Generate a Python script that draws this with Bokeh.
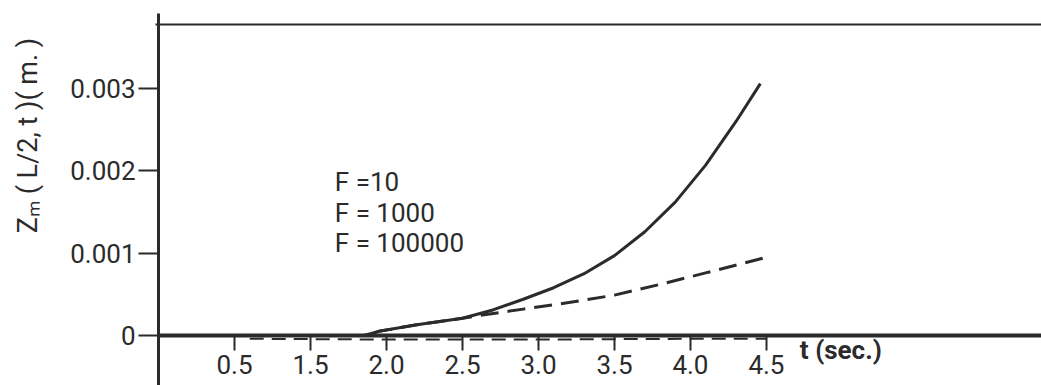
import math
from bokeh.plotting import figure
from bokeh.models import LinearAxis, FixedTicker, Label, ColumnDataSource, Range1d
from bokeh.core.properties import value
from bokeh.embed import file_html
from bokeh.resources import INLINE

# ---- data ----
# x in tick-position units (one tick every 0.5)
T_F10 = [0.0, 1.35, 1.45, 1.7, 2.0, 2.2, 2.4, 2.6, 2.8, 3.0, 3.2, 3.4, 3.6, 3.8, 3.96]
Z_F10 = [0.0, 0.0, 0.00005, 0.00013, 0.00021, 0.00031, 0.00044, 0.00058, 0.00075,
         0.00097, 0.00126, 0.00162, 0.00207, 0.0026, 0.00306]

T_F1000 = [0.0, 1.35, 1.45, 1.7, 2.0, 2.1, 2.4, 2.7, 3.0, 3.3, 3.6, 3.98]
Z_F1000 = [0.0, 0.0, 0.00005, 0.00013, 0.00021, 0.00024, 0.00032, 0.0004, 0.00049,
           0.00062, 0.00076, 0.00094]

T_F100000 = [0.6, 1.5, 2.5, 3.5, 4.0]
Z_F100000 = [-0.00004, -0.00005, -0.00005, -0.00004, -0.00004]

X_TICKS = [0.5, 1.0, 1.5, 2.0, 2.5, 3.0, 3.5, 4.0]
X_TICK_LABELS = ["0.5", "1.5", "2.0", "2.5", "3.0", "3.5", "4.0", "4.5"]
Y_TICKS = [0.0, 0.001, 0.002, 0.003]
Y_TICK_LABELS = ["0", "0.001", "0.002", "0.003"]

LEGEND_LABELS = ["F =10", "F = 1000", "F = 100000"]
LEGEND_Y = [0.00186, 0.00149, 0.00112]
LEGEND_X = 1.16
TOP_RULE = 0.00378

X_MIN, X_MAX = -1.04, 5.81
Y_MIN, Y_MAX = -0.000608, 0.00407

INK = "#2b2b2b"
FONT = "Roboto"

p = figure(width=1041, height=385, output_backend="svg", toolbar_location=None,
           x_range=Range1d(X_MIN, X_MAX), y_range=Range1d(Y_MIN, Y_MAX),
           x_axis_location=None, y_axis_location=None,
           min_border_left=0, min_border_right=0, min_border_top=0, min_border_bottom=0)
p.outline_line_color = None
p.xgrid.visible = False
p.ygrid.visible = False
p.background_fill_color = "white"
p.border_fill_color = "white"


def style(ax, lw):
    ax.minor_tick_line_color = None
    ax.axis_line_color = INK
    ax.axis_line_width = lw
    ax.major_tick_line_color = INK
    ax.major_tick_line_width = 2
    ax.major_tick_in = 0
    ax.major_label_text_font = FONT
    ax.major_label_text_font_size = "26px"
    ax.major_label_text_color = INK


# y axis drawn at x = 0
ya = LinearAxis(fixed_location=0, bounds=(Y_MIN, 0.00391))
ya.ticker = FixedTicker(ticks=Y_TICKS)
ya.major_label_overrides = {t: l for t, l in zip(Y_TICKS, Y_TICK_LABELS)}
style(ya, 3)
ya.major_tick_out = 20
ya.major_label_standoff = 3
p.add_layout(ya, "left")

# x axis drawn at y = 0
xa = LinearAxis(fixed_location=0, bounds=(0, X_MAX))
xa.ticker = FixedTicker(ticks=X_TICKS)
xa.major_label_overrides = {t: l for t, l in zip(X_TICKS, X_TICK_LABELS)}
style(xa, 4)
xa.major_tick_out = 15
xa.major_label_standoff = 5
p.add_layout(xa, "below")

# top rule (frame line of the figure)
ta = LinearAxis(fixed_location=TOP_RULE, bounds=(-0.02, X_MAX))
ta.ticker = FixedTicker(ticks=[])
style(ta, 2)
p.add_layout(ta, "above")

# curves
p.line(T_F10, Z_F10, line_color=INK, line_width=3, line_join="round")
p.line(T_F1000, Z_F1000, line_color=INK, line_width=3, line_dash="18 9", line_join="round")
p.line(T_F100000, Z_F100000, line_color=INK, line_width=2, line_dash="14 8")

# legend text
src = ColumnDataSource(dict(x=[LEGEND_X] * len(LEGEND_LABELS), y=LEGEND_Y, text=LEGEND_LABELS))
p.text(x="x", y="y", text="text", source=src, text_font=value(FONT), text_font_size="26px",
       text_color=INK, text_baseline="middle", text_align="left")

# axis titles
p.add_layout(Label(x=4.22, y=-0.00018, text="t (sec.)", text_font=FONT, text_font_size="26px",
                   text_font_style="bold", text_color=INK, text_baseline="middle", text_align="left"))
p.add_layout(Label(x=-0.862, y=0.00243, angle=math.pi / 2,
                   text="Zₘ ( L/2, t )( m. )", text_font=FONT, text_font_size="27px",
                   text_color=INK, text_baseline="middle", text_align="center"))

open("out.html", "w").write(file_html(p, INLINE))
